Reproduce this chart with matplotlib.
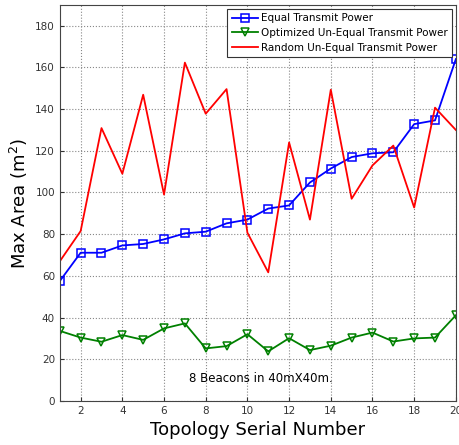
import matplotlib
matplotlib.use("Agg")
import matplotlib.pyplot as plt

# topology index 1..20
topology = list(range(1, 21))

equal_power = [57.5, 71.1, 71.1, 74.6, 75.3, 77.5, 80.4, 81.2, 85.2, 87.0,
               92.3, 93.8, 104.8, 111.5, 117.0, 118.8, 119.3, 132.8, 134.6, 164.0]
optimized_power = [33.6, 30.4, 28.4, 31.6, 29.3, 34.8, 37.2, 25.2, 26.3, 32.0,
                   23.8, 30.1, 24.4, 26.5, 30.4, 32.8, 28.5, 30.0, 30.4, 41.1]
random_power = [67.0, 81.5, 130.9, 109.0, 146.9, 99.0, 162.3, 137.8, 149.6, 80.7,
                61.7, 124.0, 87.0, 149.3, 97.0, 113.0, 122.5, 92.8, 140.7, 130.0]

series_labels = ["Equal Transmit Power",
                 "Optimized Un-Equal Transmit Power",
                 "Random Un-Equal Transmit Power"]
x_ticks = list(range(2, 21, 2))
y_ticks = list(range(0, 181, 20))

fig = plt.figure(figsize=(4.6, 4.45), dpi=100)
ax = fig.add_axes([0.13, 0.099, 0.861, 0.89])

ax.plot(topology, equal_power, color="blue", marker="s", markersize=5.5,
        markerfacecolor="none", markeredgewidth=1.1, linewidth=1.3,
        label=series_labels[0])
ax.plot(topology, optimized_power, color="green", marker="v", markersize=5.5,
        markerfacecolor="none", markeredgewidth=1.1, linewidth=1.3,
        label=series_labels[1])
ax.plot(topology, random_power, color="red", linewidth=1.3,
        label=series_labels[2])

ax.set_xlim(1, 20)
ax.set_ylim(0, 190)
ax.set_xticks(x_ticks)
ax.set_yticks(y_ticks)
ax.tick_params(labelsize=7.5, colors="#333333", direction="in", length=3)
ax.grid(True, linestyle=":", color="#888888", linewidth=0.8)
for s in ax.spines.values():
    s.set_color("#444444")

ax.set_xlabel("Topology Serial Number", fontsize=13)
ax.set_ylabel("Max Area (m$^2$)", fontsize=13)
ax.text(7.2, 9, "8 Beacons in 40mX40m.", fontsize=8.5)

leg = ax.legend(loc="upper right", fontsize=7.5, fancybox=False,
                framealpha=1, edgecolor="#333333", borderaxespad=0.4,
                handlelength=2.5, handletextpad=0.3, labelspacing=0.45)
leg.get_frame().set_linewidth(0.8)

fig.savefig("out.png", dpi=100)
